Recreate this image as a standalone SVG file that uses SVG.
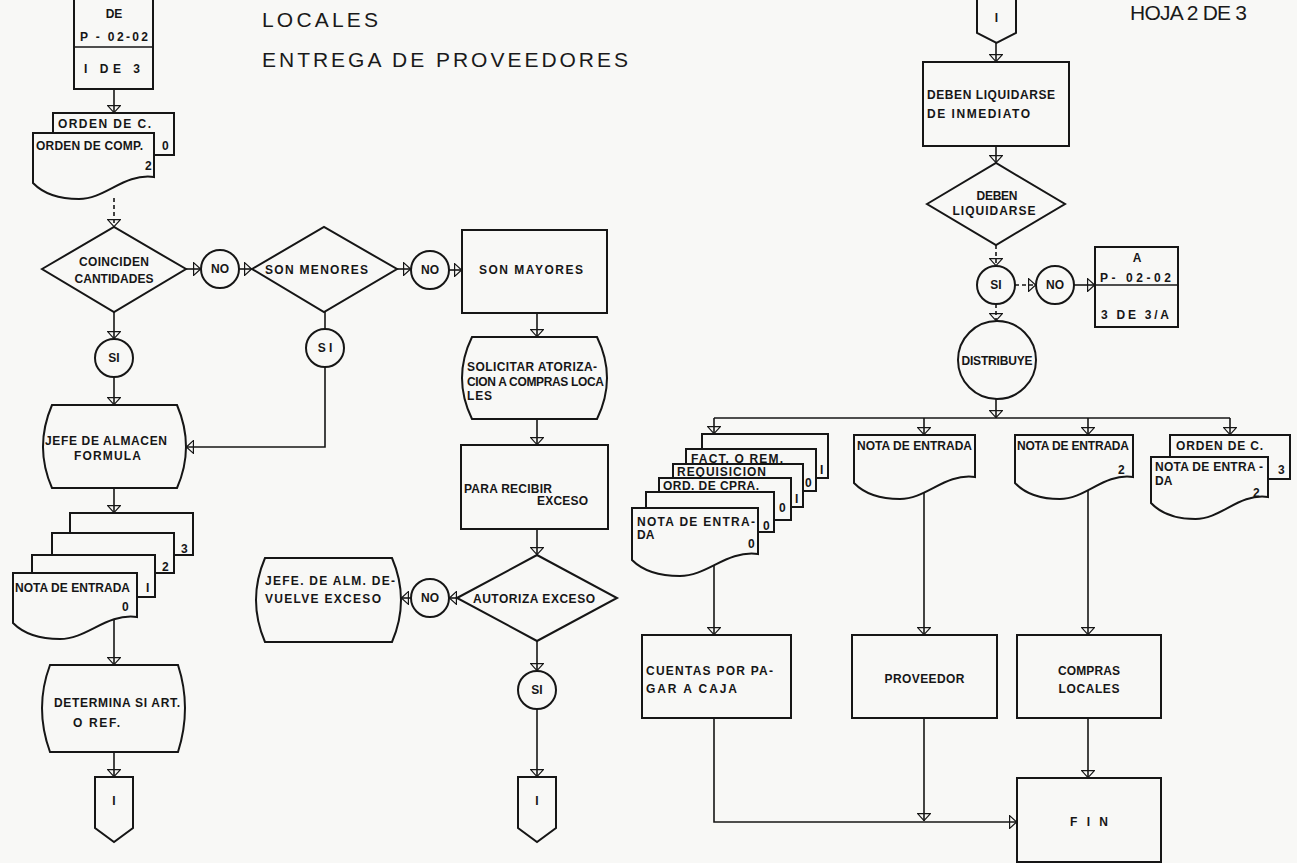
<svg xmlns="http://www.w3.org/2000/svg" width="1297" height="863" viewBox="0 0 1297 863">
  <defs>
    <style>
      .ln { stroke: #161616; stroke-width: 1.6; fill: none; }
      .dash { stroke-dasharray: 4 3; }
      .sh { stroke: #161616; stroke-width: 2; fill: #f8f8f6; }
      .t { font-family: "Liberation Sans", Arial, sans-serif; font-weight: bold; font-size: 12px; fill: #161616; }
      .c { text-anchor: middle; }
      .ttl { font-family: "Liberation Sans", Arial, sans-serif; font-size: 21px; fill: #1a1a1a; }
    </style>
    <marker id="ah" viewBox="0 0 8 14" refX="8" refY="7" markerWidth="8" markerHeight="14" markerUnits="userSpaceOnUse" orient="auto">
      <path d="M0.6,0.6 L7.6,7 L0.6,13.4 Z" fill="none" stroke="#161616" stroke-width="1.2"/>
    </marker>
  </defs>

  <rect x="0" y="0" width="1297" height="863" fill="#f8f8f6"/>

  <!-- heading -->
  <g id="title">
    <text class="ttl" x="262" y="27" textLength="116" lengthAdjust="spacing">LOCALES</text>
    <text class="ttl" x="262" y="67" textLength="366" lengthAdjust="spacing">ENTREGA DE PROVEEDORES</text>
    <text class="ttl" x="1130" y="20" font-size="14" textLength="117" lengthAdjust="spacing">HOJA 2 DE 3</text>
  </g>

  <!-- flow lines -->
  <g id="connectors">
    <!-- left column -->
    <path class="ln" d="M114,89 V113" marker-end="url(#ah)"/>
    <path class="ln dash" d="M114,198 V227" marker-end="url(#ah)"/>
    <path class="ln" d="M186,269 H201" marker-end="url(#ah)"/>
    <path class="ln" d="M239,269 H252" marker-end="url(#ah)"/>
    <path class="ln" d="M397,269 H411" marker-end="url(#ah)"/>
    <path class="ln" d="M449,270 H462" marker-end="url(#ah)"/>
    <path class="ln" d="M114,312 V339" marker-end="url(#ah)"/>
    <path class="ln" d="M114,377 V405" marker-end="url(#ah)"/>
    <path class="ln" d="M325,312 V329"/>
    <path class="ln" d="M325,367 V447 H186" marker-end="url(#ah)"/>
    <path class="ln" d="M114,488 V513" marker-end="url(#ah)"/>
    <path class="ln" d="M114,615 V665" marker-end="url(#ah)"/>
    <path class="ln" d="M114,752 V777" marker-end="url(#ah)"/>
    <!-- middle column -->
    <path class="ln" d="M537,313 V337" marker-end="url(#ah)"/>
    <path class="ln" d="M537,419 V445" marker-end="url(#ah)"/>
    <path class="ln" d="M537,529 V555" marker-end="url(#ah)"/>
    <path class="ln" d="M457,598 H449" marker-end="url(#ah)"/>
    <path class="ln" d="M411,598 H401" marker-end="url(#ah)"/>
    <path class="ln" d="M537,641 V671" marker-end="url(#ah)"/>
    <path class="ln" d="M537,709 V777" marker-end="url(#ah)"/>
    <!-- right column -->
    <path class="ln" d="M996,43 V62" marker-end="url(#ah)"/>
    <path class="ln" d="M996,146 V163" marker-end="url(#ah)"/>
    <path class="ln dash" d="M996,245 V266" marker-end="url(#ah)"/>
    <path class="ln dash" d="M1015,285 H1036" marker-end="url(#ah)"/>
    <path class="ln" d="M1074,285 H1095" marker-end="url(#ah)"/>
    <path class="ln dash" d="M996,304 V321" marker-end="url(#ah)"/>
    <path class="ln" d="M996,399 V418" marker-end="url(#ah)"/>
    <path class="ln" d="M714,418 H1230"/>
    <path class="ln" d="M714,418 V434" marker-end="url(#ah)"/>
    <path class="ln" d="M924,418 V435" marker-end="url(#ah)"/>
    <path class="ln" d="M1088,418 V435" marker-end="url(#ah)"/>
    <path class="ln" d="M1230,418 V435" marker-end="url(#ah)"/>
    <path class="ln" d="M714,560 V635" marker-end="url(#ah)"/>
    <path class="ln" d="M924,490 V635" marker-end="url(#ah)"/>
    <path class="ln" d="M1088,490 V635" marker-end="url(#ah)"/>
    <path class="ln" d="M714,718 V822 H1017" marker-end="url(#ah)"/>
    <path class="ln" d="M924,718 V821" marker-end="url(#ah)"/>
    <path class="ln" d="M1088,718 V778" marker-end="url(#ah)"/>
  </g>

  <!-- left column -->
  <g id="ref-entrada-p0202">
    <rect class="sh" x="74" y="-5" width="79" height="94"/>
    <line class="ln" x1="74" y1="47" x2="153" y2="47" stroke-width="2"/>
    <text class="t c" x="114" y="18">DE</text>
    <text class="t" x="80" y="41" textLength="68" lengthAdjust="spacing">P - 02-02</text>
    <text class="t" x="84" y="73" textLength="56" lengthAdjust="spacing">I  DE  3</text>
  </g>

  <g id="doc-orden-compra">
    <rect class="sh" x="53" y="113" width="121" height="42"/>
    <text class="t" x="58" y="128" textLength="93" lengthAdjust="spacing">ORDEN  DE  C.</text>
    <text class="t" x="162" y="150">0</text>
    <path class="sh" d="M33,133 H154 V177 C123.75,173 105.6,199 79,199 C57.2,199 42.7,193 33,183 Z"/>
    <text class="t" x="36" y="150" textLength="107" lengthAdjust="spacing">ORDEN  DE COMP.</text>
    <text class="t" x="145" y="170">2</text>
  </g>

  <g id="dec-coinciden">
    <polygon class="sh" points="42,269 114,227 186,269 114,312"/>
    <text class="t c" x="114" y="266" textLength="70" lengthAdjust="spacing">COINCIDEN</text>
    <text class="t c" x="114" y="283" textLength="79" lengthAdjust="spacing">CANTIDADES</text>
  </g>

  <g id="no-coinciden">
    <circle class="sh" cx="220" cy="269" r="19"/>
    <text class="t c" x="220" y="273">NO</text>
  </g>

  <g id="dec-son-menores">
    <polygon class="sh" points="252,269 324,227 397,269 324,312"/>
    <text class="t" x="265" y="274" textLength="103" lengthAdjust="spacing">SON  MENORES</text>
  </g>

  <g id="no-menores">
    <circle class="sh" cx="430" cy="270" r="19"/>
    <text class="t c" x="430" y="274">NO</text>
  </g>

  <g id="proc-son-mayores">
    <rect class="sh" x="462" y="230" width="145" height="83"/>
    <text class="t" x="479" y="274" textLength="104" lengthAdjust="spacing">SON  MAYORES</text>
  </g>

  <g id="si-coinciden">
    <circle class="sh" cx="114" cy="358" r="19"/>
    <text class="t c" x="114" y="362">SI</text>
  </g>

  <g id="si-menores">
    <circle class="sh" cx="325" cy="348" r="19"/>
    <text class="t c" x="325" y="352">S I</text>
  </g>

  <g id="jefe-formula">
    <path class="sh" d="M52,405 H177 Q195,447 177,488 H52 Q34,447 52,405 Z"/>
    <text class="t" x="45" y="445" textLength="122" lengthAdjust="spacing">JEFE DE ALMACEN</text>
    <text class="t" x="74" y="460" textLength="67" lengthAdjust="spacing">FORMULA</text>
  </g>

  <g id="doc-nota-entrada">
    <rect class="sh" x="70" y="513" width="123" height="42"/>
    <text class="t" x="181" y="553">3</text>
    <rect class="sh" x="52" y="533" width="122" height="40"/>
    <text class="t" x="162" y="571">2</text>
    <rect class="sh" x="32" y="555" width="123" height="42"/>
    <text class="t" x="146" y="592">I</text>
    <path class="sh" d="M13,573 H137 V617 C106,613 87.4,639 60,639 C37.8,639 22.9,633 13,623 Z"/>
    <text class="t" x="15" y="592" textLength="115" lengthAdjust="spacing">NOTA DE ENTRADA</text>
    <text class="t" x="122" y="611">0</text>
  </g>

  <g id="determina">
    <path class="sh" d="M50,665 H178 Q192,708 178,752 H50 Q34,708 50,665 Z"/>
    <text class="t" x="54" y="707" textLength="126" lengthAdjust="spacing">DETERMINA SI ART.</text>
    <text class="t" x="73" y="727" textLength="47" lengthAdjust="spacing">O  REF.</text>
  </g>

  <g id="conn-out-left">
    <path class="sh" d="M95,777 H133 V828 L114,842 L95,828 Z"/>
    <text class="t c" x="114" y="805">I</text>
  </g>

  <!-- middle column -->
  <g id="solicitar">
    <path class="sh" d="M472,337 H597 Q617,378 597,419 H472 Q452,378 472,337 Z"/>
    <text class="t" x="467" y="371" textLength="130" lengthAdjust="spacing">SOLICITAR  ATORIZA-</text>
    <text class="t" x="467" y="386" textLength="137" lengthAdjust="spacing">CION A COMPRAS LOCA</text>
    <text class="t" x="467" y="400" textLength="25" lengthAdjust="spacing">LES</text>
  </g>

  <g id="para-recibir">
    <rect class="sh" x="461" y="445" width="147" height="84"/>
    <text class="t" x="464" y="493" textLength="88" lengthAdjust="spacing">PARA RECIBIR</text>
    <text class="t" x="537" y="505" textLength="51" lengthAdjust="spacing">EXCESO</text>
  </g>

  <g id="dec-autoriza">
    <polygon class="sh" points="457,598 537,555 617,598 537,641"/>
    <text class="t" x="473" y="603" textLength="122" lengthAdjust="spacing">AUTORIZA  EXCESO</text>
  </g>

  <g id="no-autoriza">
    <circle class="sh" cx="430" cy="598" r="19"/>
    <text class="t c" x="430" y="602">NO</text>
  </g>

  <g id="jefe-devuelve">
    <path class="sh" d="M265,558 H392 Q410,600 392,642 H265 Q247,600 265,558 Z"/>
    <text class="t" x="265" y="585" textLength="130" lengthAdjust="spacing">JEFE.  DE  ALM. DE-</text>
    <text class="t" x="265" y="603" textLength="116" lengthAdjust="spacing">VUELVE  EXCESO</text>
  </g>

  <g id="si-autoriza">
    <circle class="sh" cx="537" cy="690" r="19"/>
    <text class="t c" x="537" y="694">SI</text>
  </g>

  <g id="conn-out-middle">
    <path class="sh" d="M518,777 H556 V828 L537,842 L518,828 Z"/>
    <text class="t c" x="537" y="805">I</text>
  </g>

  <!-- right column -->
  <g id="conn-in-right">
    <path class="sh" d="M977,-5 H1016 V33 L996.5,43 L977,33 Z"/>
    <text class="t c" x="996.5" y="22">I</text>
  </g>

  <g id="deben-liquidarse-inmediato">
    <rect class="sh" x="923" y="62" width="146" height="84"/>
    <text class="t" x="927" y="99" textLength="128" lengthAdjust="spacing">DEBEN LIQUIDARSE</text>
    <text class="t" x="927" y="118" textLength="103" lengthAdjust="spacing">DE  INMEDIATO</text>
  </g>

  <g id="dec-deben-liquidarse">
    <polygon class="sh" points="927,204 996,163 1065,204 996,245"/>
    <text class="t c" x="997" y="200" textLength="41" lengthAdjust="spacing">DEBEN</text>
    <text class="t c" x="994" y="215" textLength="83" lengthAdjust="spacing">LIQUIDARSE</text>
  </g>

  <g id="si-liquidarse">
    <circle class="sh" cx="996" cy="285" r="19"/>
    <text class="t c" x="996" y="289">SI</text>
  </g>

  <g id="no-liquidarse">
    <circle class="sh" cx="1055" cy="285" r="19"/>
    <text class="t c" x="1055" y="289">NO</text>
  </g>

  <g id="ref-salida-p0202">
    <rect class="sh" x="1095" y="247" width="83" height="80"/>
    <line class="ln" x1="1095" y1="285" x2="1178" y2="285" stroke-width="2"/>
    <text class="t c" x="1137" y="262">A</text>
    <text class="t" x="1100" y="282" textLength="71" lengthAdjust="spacing">P-  02-02</text>
    <text class="t" x="1101" y="319" textLength="68" lengthAdjust="spacing">3  DE  3/A</text>
  </g>

  <g id="distribuye">
    <circle class="sh" cx="997" cy="360" r="39"/>
    <text class="t c" x="997" y="365" textLength="71" lengthAdjust="spacing">DISTRIBUYE</text>
  </g>

  <g id="doc-stack-cuentas">
    <rect class="sh" x="702" y="434" width="126" height="44"/>
    <text class="t" x="820" y="474">I</text>
    <rect class="sh" x="686" y="449" width="130" height="42"/>
    <text class="t" x="691" y="463" textLength="92" lengthAdjust="spacing">FACT. O REM.</text>
    <text class="t" x="805" y="487">0</text>
    <rect class="sh" x="673" y="464" width="130" height="43"/>
    <text class="t" x="677" y="476" textLength="89" lengthAdjust="spacing">REQUISICION</text>
    <text class="t" x="795" y="503">I</text>
    <rect class="sh" x="659" y="478" width="132" height="42"/>
    <text class="t" x="663" y="490" textLength="96" lengthAdjust="spacing">ORD. DE CPRA.</text>
    <text class="t" x="779" y="512">0</text>
    <rect class="sh" x="646" y="492" width="128" height="40"/>
    <text class="t" x="763" y="530">0</text>
    <path class="sh" d="M632,508 H758 V554 C726.5,550 707.6,576 679.9,576 C657.2,576 642,570 632,560 Z"/>
    <text class="t" x="637" y="526" textLength="118" lengthAdjust="spacing">NOTA  DE ENTRA-</text>
    <text class="t" x="637" y="539">DA</text>
    <text class="t" x="748" y="548">0</text>
  </g>

  <g id="doc-nota-proveedor">
    <path class="sh" d="M854,435 H975 V477 C944.75,473 926.6,499 900,499 C878.2,499 863.7,493 854,483 Z"/>
    <text class="t" x="857" y="450" textLength="115" lengthAdjust="spacing">NOTA DE ENTRADA</text>
  </g>

  <g id="doc-nota-compras">
    <path class="sh" d="M1015,435 H1133 V477 C1103.5,473 1085.8,499 1059.8,499 C1038.6,499 1024.4,493 1015,483 Z"/>
    <text class="t" x="1017" y="450" textLength="112" lengthAdjust="spacing">NOTA DE ENTRADA</text>
    <text class="t" x="1118" y="474">2</text>
  </g>

  <g id="doc-archivo">
    <rect class="sh" x="1170" y="435" width="120" height="44"/>
    <text class="t" x="1176" y="450" textLength="87" lengthAdjust="spacing">ORDEN  DE  C.</text>
    <text class="t" x="1278" y="474">3</text>
    <path class="sh" d="M1151,457 H1268 V497 C1238.75,493 1221.2,519 1195.5,519 C1174.4,519 1160.4,513 1151,503 Z"/>
    <text class="t" x="1155" y="471" textLength="108" lengthAdjust="spacing">NOTA  DE ENTRA -</text>
    <text class="t" x="1155" y="485">DA</text>
    <text class="t" x="1253" y="497">2</text>
  </g>

  <g id="cuentas-por-pagar">
    <rect class="sh" x="642" y="635" width="149" height="83"/>
    <text class="t" x="646" y="675" textLength="127" lengthAdjust="spacing">CUENTAS POR  PA-</text>
    <text class="t" x="646" y="693" textLength="91" lengthAdjust="spacing">GAR  A  CAJA</text>
  </g>

  <g id="proveedor">
    <rect class="sh" x="852" y="635" width="145" height="83"/>
    <text class="t c" x="924.5" y="683" textLength="80" lengthAdjust="spacing">PROVEEDOR</text>
  </g>

  <g id="compras-locales">
    <rect class="sh" x="1017" y="635" width="144" height="83"/>
    <text class="t c" x="1089" y="675" textLength="62" lengthAdjust="spacing">COMPRAS</text>
    <text class="t c" x="1089" y="693" textLength="61" lengthAdjust="spacing">LOCALES</text>
  </g>

  <g id="fin">
    <rect class="sh" x="1017" y="778" width="144" height="84"/>
    <text class="t c" x="1089" y="826" textLength="38" lengthAdjust="spacing">F I N</text>
  </g>
</svg>
